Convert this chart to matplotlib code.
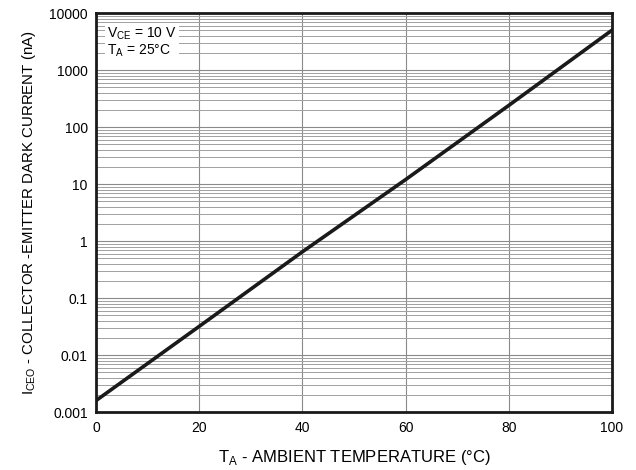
import matplotlib
matplotlib.use("Agg")
import matplotlib.pyplot as plt
from matplotlib.ticker import FixedLocator, LogLocator, NullFormatter

plt.rcParams['font.family'] = ['Liberation Sans', 'DejaVu Sans']

# values
temp = [0, 20, 40, 60, 80, 100]
dark_current = [0.0016, 0.032, 0.65, 12, 240, 5000]

yticks = [0.001, 0.01, 0.1, 1, 10, 100, 1000, 10000]
ylabels = ["0.001", "0.01", "0.1", "1", "10", "100", "1000", "10000"]
xticks = [0, 20, 40, 60, 80, 100]

fig = plt.figure(figsize=(6.36, 4.70), dpi=100)
ax = fig.add_axes([0.151, 0.123, 0.811, 0.849])

ax.set_yscale("log")
ax.set_xlim(0, 100)
ax.set_ylim(0.001, 10000)

ax.yaxis.set_major_locator(FixedLocator(yticks))
ax.set_yticklabels(ylabels)
ax.yaxis.set_minor_locator(LogLocator(base=10, subs=range(2, 10), numticks=20))
ax.yaxis.set_minor_formatter(NullFormatter())
ax.set_xticks(xticks)

ax.grid(True, which="major", color="#8a8a8a", linewidth=0.8)
ax.grid(True, which="minor", axis="y", color="#a0a0a0", linewidth=0.7)
ax.tick_params(which="both", length=0, labelsize=10, pad=6)

ax.plot(temp, dark_current, color="#1a1a1a", linewidth=2.6, zorder=5)

for s in ax.spines.values():
    s.set_linewidth(2.0)
    s.set_color("#1a1a1a")

ax.text(0.022, 0.97, "V$_{\\mathregular{CE}}$ = 10 V\nT$_{\\mathregular{A}}$ = 25°C",
        transform=ax.transAxes, fontsize=10, va="top", ha="left", linespacing=1.05,
        bbox=dict(facecolor="white", edgecolor="none", pad=1.5), zorder=6)

ax.set_xlabel("T$_{\\mathregular{A}}$ - AMBIENT TEMPERATURE (°C)", fontsize=12, labelpad=10)
ax.set_ylabel("I$_{\\mathregular{CEO}}$ - COLLECTOR -EMITTER DARK CURRENT (nA)", fontsize=10.8, labelpad=8)

fig.savefig("out.png", dpi=100)
